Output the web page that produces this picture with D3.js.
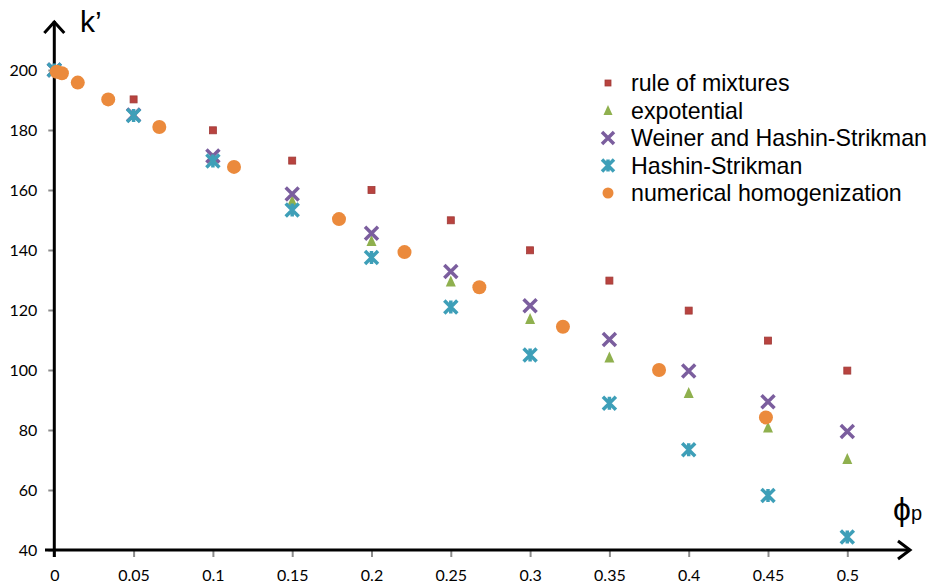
<!DOCTYPE html>
<html lang="en">
<head>
<meta charset="UTF-8">
<title>k' vs phi</title>
<style>
  body { margin: 0; background: #fff; }
  svg { display: block; }
</style>
</head>
<body>
<script src="https://cdn.jsdelivr.net/npm/d3@7/dist/d3.min.js"></script>
<script>
// phi values for the analytical series
var phi = [0, 0.05, 0.1, 0.15, 0.2, 0.25, 0.3, 0.35, 0.4, 0.45, 0.5];

var ruleOfMixtures = [200, 190.2, 179.9, 169.8, 160, 149.9, 139.9, 129.8, 119.8, 109.8, 99.8];
var expotential   = [200, 185, 170.5, 156.3, 143, 129.5, 117, 104.2, 92.3, 80.8, 70.3];
var weinerHS      = [200, 185, 171.3, 158.7, 145.6, 132.8, 121.4, 110.2, 99.7, 89.4, 79.5];
var hashinS       = [200, 184.8, 169.7, 153.3, 137.5, 121, 105, 88.9, 73.4, 58.2, 44.3];

// numerical homogenization has its own phi positions
var numPhi = [0.0015, 0.0048, 0.0148, 0.034, 0.0662, 0.1133, 0.1795, 0.2208, 0.268, 0.3207, 0.3813, 0.4487];
var numVal = [199.4, 198.9, 195.8, 190.2, 181, 167.7, 150.3, 139.3, 127.6, 114.4, 100, 84.2];

var xTicks = [0, 0.05, 0.1, 0.15, 0.2, 0.25, 0.3, 0.35, 0.4, 0.45, 0.5];
var yTicks = [40, 60, 80, 100, 120, 140, 160, 180, 200];

var seriesNames = ["rule of mixtures", "expotential", "Weiner and Hashin-Strikman", "Hashin-Strikman", "numerical homogenization"];
var colors = ["#b8433f", "#8fb04e", "#7b5e9e", "#3e9fb8", "#eb8a3c"];

var width = 933, height = 588;

var x = d3.scaleLinear().domain([0, 0.5]).range([54.3, 847.3]);
var y = d3.scaleLinear().domain([40, 200]).range([550, 70]);

var svg = d3.select("body").append("svg")
  .attr("width", width)
  .attr("height", height);

// axes with gray ticks
var yAxis = d3.axisLeft(y).tickValues(yTicks).tickSize(6).tickPadding(11);
var gy = svg.append("g")
  .attr("transform", "translate(" + x(0) + ",0)")
  .call(yAxis);
gy.select(".domain").remove();
gy.selectAll(".tick line").attr("stroke", "#8c8c8c").attr("stroke-width", 2);
gy.selectAll(".tick text")
  .attr("font-family", "Lato, 'Open Sans', sans-serif")
  .attr("font-size", 16)
  .attr("fill", "#000");

var xAxis = d3.axisBottom(x).tickValues(xTicks).tickSize(7).tickPadding(13)
  .tickFormat(function(d){ return String(+d.toFixed(2)); });
var gx = svg.append("g")
  .attr("transform", "translate(0," + y(40) + ")")
  .call(xAxis);
gx.select(".domain").remove();
gx.selectAll(".tick line").attr("stroke", "#8c8c8c").attr("stroke-width", 2);
gx.selectAll(".tick text")
  .attr("font-family", "Lato, 'Open Sans', sans-serif")
  .attr("font-size", 16)
  .attr("fill", "#000");

// axis lines with arrows
var axisG = svg.append("g")
  .attr("stroke", "#000")
  .attr("stroke-width", 3)
  .attr("fill", "none");
axisG.append("line").attr("x1", x(0)).attr("y1", 557).attr("x2", x(0)).attr("y2", 21);
axisG.append("path").attr("d", "M" + (x(0) - 10) + ",33L" + x(0) + ",22L" + (x(0) + 10) + ",33");
axisG.append("line").attr("x1", 45).attr("y1", y(40)).attr("x2", 910).attr("y2", y(40));
axisG.append("path").attr("d", "M898,541L910,550L898,559");

// axis titles
svg.append("text")
  .attr("x", 80).attr("y", 32)
  .attr("font-family", "'Liberation Sans', Arial, sans-serif")
  .attr("font-size", 30)
  .text("k\u2019");

var phiLabel = svg.append("text")
  .attr("x", 893).attr("y", 520)
  .attr("font-family", "'Liberation Sans', Arial, sans-serif");
phiLabel.append("tspan").attr("font-size", 32).text("\u03d5");
phiLabel.append("tspan").attr("font-size", 20).text("p");

// marker drawers
function drawSquare(g, s, c) {
  g.append("rect").attr("x", -s / 2).attr("y", -s / 2).attr("width", s).attr("height", s)
    .attr("fill", c).attr("stroke", d3.color(c).darker(0.4)).attr("stroke-width", 0.8);
}
function drawTriangle(g, s, c) {
  g.append("path")
    .attr("d", "M0," + (-s * 0.6) + "L" + (s * 0.5) + "," + (s * 0.5) + "L" + (-s * 0.5) + "," + (s * 0.5) + "Z")
    .attr("fill", c);
}
function drawX(g, s, c) {
  var h = s / 2;
  g.append("path")
    .attr("d", "M" + -h + "," + -h + "L" + h + "," + h + "M" + h + "," + -h + "L" + -h + "," + h)
    .attr("stroke", c).attr("stroke-width", 3.5).attr("fill", "none");
}
function drawStar(g, s, c) {
  var h = s / 2;
  g.append("path")
    .attr("d", "M" + -h + "," + -h + "L" + h + "," + h + "M" + h + "," + -h + "L" + -h + "," + h +
      "M0," + -h + "L0," + h)
    .attr("stroke", c).attr("stroke-width", 3.5).attr("fill", "none");
}
function drawCircle(g, s, c) {
  g.append("circle").attr("r", s / 2).attr("fill", c);
}

var drawers = [drawSquare, drawTriangle, drawX, drawStar, drawCircle];
var sizes = [7, 10, 13, 13, 14];
var seriesData = [
  phi.map(function(p, i){ return [p, ruleOfMixtures[i]]; }),
  phi.map(function(p, i){ return [p, expotential[i]]; }),
  phi.map(function(p, i){ return [p, weinerHS[i]]; }),
  phi.map(function(p, i){ return [p, hashinS[i]]; }),
  numPhi.map(function(p, i){ return [p, numVal[i]]; })
];

seriesData.forEach(function(data, si) {
  svg.append("g").selectAll("g")
    .data(data)
    .enter()
    .append("g")
    .attr("transform", function(d){ return "translate(" + x(d[0]) + "," + y(d[1]) + ")"; })
    .each(function(){ drawers[si](d3.select(this), sizes[si], colors[si]); });
});

// legend
var legendSizes = [6, 9, 12, 12, 11];
var legend = svg.append("g").attr("transform", "translate(608,83)");
seriesNames.forEach(function(name, i) {
  var row = legend.append("g").attr("transform", "translate(0," + (i * 27.5) + ")");
  drawers[i](row, legendSizes[i], colors[i]);
  row.append("text")
    .attr("x", 23).attr("y", 8)
    .attr("font-family", "'Liberation Sans', Arial, sans-serif")
    .attr("font-size", 23.2)
    .attr("fill", "#000")
    .text(name);
});
</script>
</body>
</html>
